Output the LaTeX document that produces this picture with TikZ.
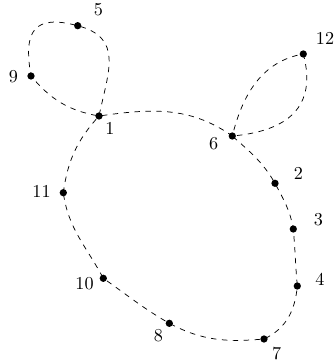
\documentclass[tikz,border=0pt]{standalone}
\begin{document}
\begin{tikzpicture}[x=0.55pt,y=0.55pt,
  dot/.style={circle,fill=black,inner sep=0pt,minimum size=4pt},
  lbl/.style={inner sep=0pt,font=\normalsize},
  curve/.style={draw=black,dashed,line width=0.4pt}]
\useasboundingbox (0,0) rectangle (335,-364);
% points
\node[dot] (p1) at (99,-116) {};
\node[dot] (p5) at (77.7,-25.7) {};
\node[dot] (p9) at (31,-76) {};
\node[dot] (p12) at (303.3,-54) {};
\node[dot] (p6) at (232.3,-136) {};
\node[dot] (p2) at (275,-183.3) {};
\node[dot] (p3) at (293.3,-229) {};
\node[dot] (p4) at (297.3,-286) {};
\node[dot] (p7) at (264,-339) {};
\node[dot] (p8) at (169.3,-323.3) {};
\node[dot] (p10) at (103.3,-278.3) {};
\node[dot] (p11) at (63.3,-192.7) {};
% labels
\node[lbl] (l5) at (98.3,-9.5) {5};
\node[lbl] (l9) at (13.3,-77) {9};
\node[lbl] (l1) at (110,-128.8) {1};
\node[lbl] (l12) at (325,-38.5) {12};
\node[lbl] (l6) at (213.7,-143.7) {6};
\node[lbl] (l2) at (298.3,-173.3) {2};
\node[lbl] (l3) at (318.3,-220) {3};
\node[lbl] (l4) at (320,-279) {4};
\node[lbl] (l7) at (276.7,-354) {7};
\node[lbl] (l8) at (158.3,-335.8) {8};
\node[lbl] (l10) at (84.5,-284) {10};
\node[lbl] (l11) at (41.5,-191.5) {11};
% curve
\path[curve] (p11.center) to[out=82,in=228] (p1.center)
  to[out=78,in=-15,looseness=1.3] (p5.center)
  to[out=165,in=100,looseness=1.7] (p9.center)
  to[out=-50,in=170] (p1.center)
  to[out=8,in=145] (p6.center)
  to[out=76,in=190] (p12.center)
  to[out=-75,in=5,looseness=1.3] (p6.center)
  to[out=-42,in=120] (p2.center)
  to[out=-62,in=100] (p3.center)
  to[out=-85,in=95] (p4.center)
  to[out=-95,in=25] (p7.center)
  to[out=185,in=-28] (p8.center)
  to[out=150,in=-35] (p10.center)
  to[out=118,in=-82] (p11.center);
\end{tikzpicture}
\end{document}
